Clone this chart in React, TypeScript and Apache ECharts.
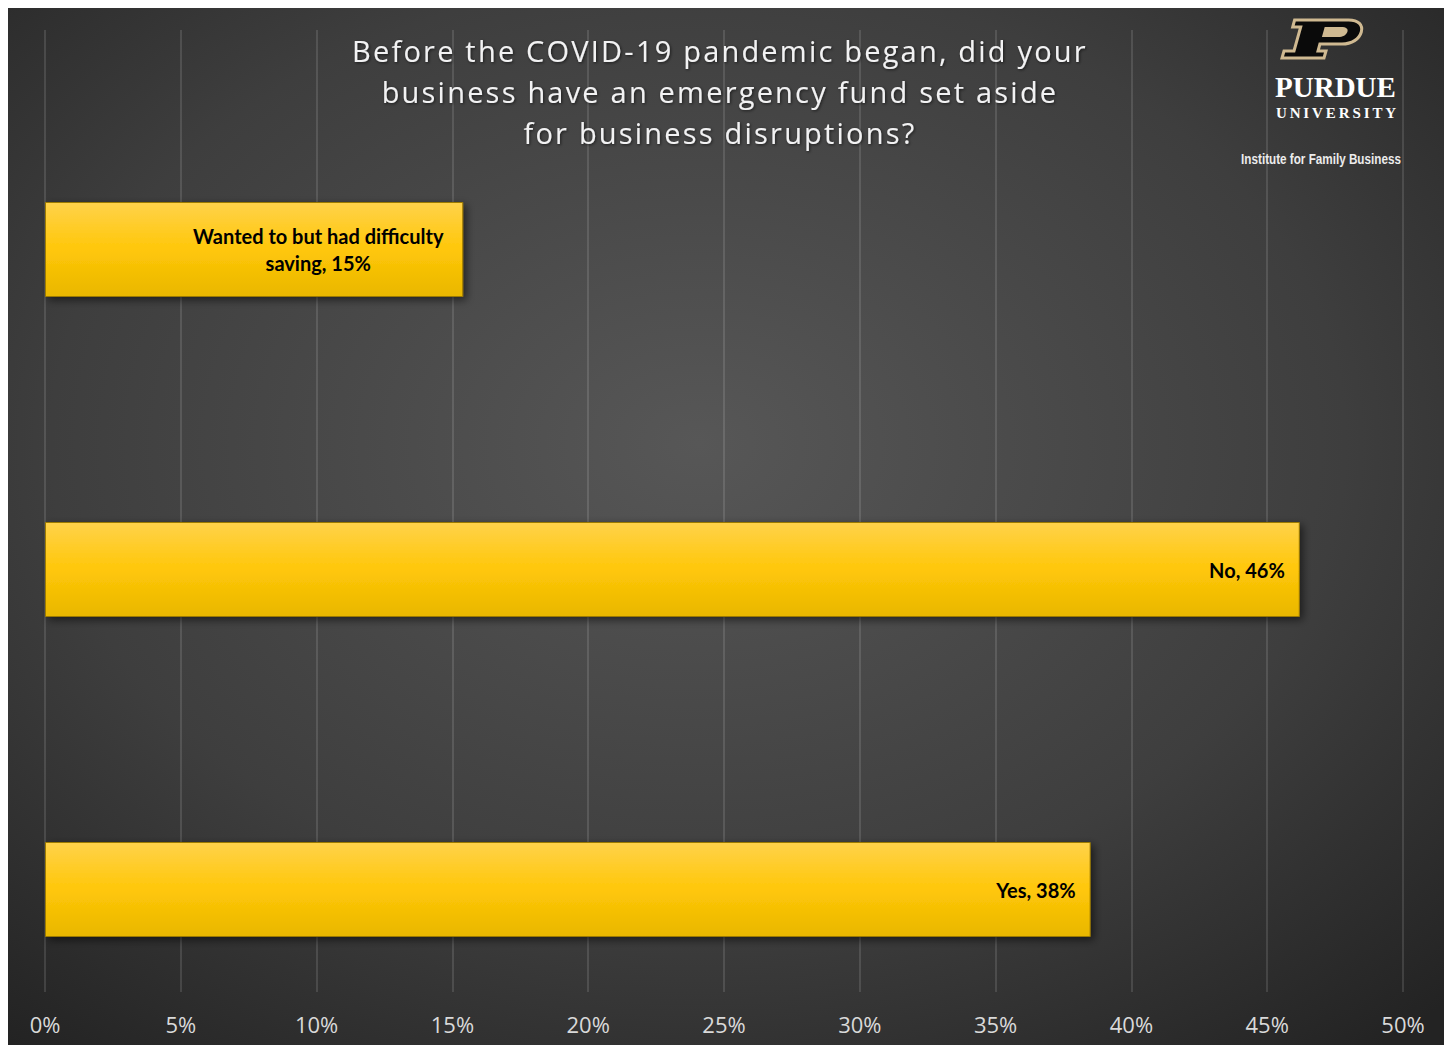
import React, { useEffect, useRef } from "react";
import * as echarts from "echarts";

const categories = ["Yes", "No", "Wanted to but had difficulty saving"];
const values = [38.5, 46.2, 15.4];
const labelTexts = ["Yes, 38%", "No, 46%", "Wanted to but had difficulty\nsaving, 15%"];
const axisMin = 0;
const axisMax = 50;
const axisStep = 5;
const titleLines = [
  "Before the COVID-19 pandemic began, did your",
  "business have an emergency fund set aside",
  "for business disruptions?",
];
const logoName = "PURDUE";
const logoSub = "UNIVERSITY";
const logoInstitute = "Institute for Family Business";

const TITLE_FILL = "#f2f2f3";
const SUB_FILL = "#fefefe";

const P_OUTER =
  "M14.6 0 L68.6 0 C78.6 0 83.2 5 81.3 12 C79.3 19 71.9 24 61.9 24 L39.9 24 L38 31 L46 31 L44 38 L2 38 L4 31 L14 31 L20.7 7 L12.7 7 Z";
const P_HOLE =
  "M44.7 7 L60.7 7 C66.7 7 68.4 9 67.3 12 C66.2 15 62.9 17 57.9 17 L41.9 17 Z";

export default function App() {
  const ref = useRef<HTMLDivElement>(null);
  useEffect(() => {
    if (!ref.current) return;
    echarts.graphic.registerShape("pOuter", echarts.graphic.extendPath(P_OUTER, {}));
    echarts.graphic.registerShape("pHole", echarts.graphic.extendPath(P_HOLE, {}));
    const chart = echarts.init(ref.current, null, { renderer: "svg" });
    const option: any = {
      animation: false,
      backgroundColor: {
        type: "radial",
        x: 0.48,
        y: 0.42,
        r: 0.75,
        colorStops: [
          { offset: 0, color: "#575757" },
          { offset: 0.6, color: "#3e3e3e" },
          { offset: 1, color: "#232323" },
        ],
      },
      grid: [
        { left: 37, right: 43, top: 22, bottom: 53, outerBoundsMode: "none" },
        { left: 37, right: 43, top: 81.5, height: 960, outerBoundsMode: "none" },
      ],
      xAxis: [
        {
          gridIndex: 0,
          type: "value",
          min: axisMin,
          max: axisMax,
          interval: axisStep,
          axisLine: { show: false },
          axisTick: { show: false },
          splitLine: { show: true, lineStyle: { color: "rgba(255,255,255,0.12)", width: 2 } },
          axisLabel: {
            margin: 21,
            color: "#d9d9d9",
            fontFamily: "Open Sans",
            fontSize: 22,
            formatter: (v: number) => `${v}%`,
          },
        },
        {
          gridIndex: 1,
          type: "value",
          min: axisMin,
          max: axisMax,
          show: false,
        },
      ],
      yAxis: [
        { gridIndex: 0, type: "category", data: categories, show: false },
        { gridIndex: 1, type: "category", data: categories, show: false },
      ],
      graphic: [
        {
          type: "text",
          x: 712,
          y: 22,
          z: 10,
          style: {
            text: titleLines.join("\n"),
            fill: TITLE_FILL,
            fontFamily: "Open Sans",
            fontSize: 29,
            lineHeight: 41,
            textAlign: "center",
            textVerticalAlign: "top",
            textShadowColor: "rgba(0,0,0,0.6)",
            textShadowBlur: 3,
            textShadowOffsetX: 1,
            textShadowOffsetY: 1,
          },
        },
        {
          type: "pOuter",
          x: 1272,
          y: 12,
          z: 10,
          style: { fill: "#0a0a0a", stroke: "#cfb991", lineWidth: 3 },
        },
        {
          type: "pHole",
          x: 1272,
          y: 12,
          z: 11,
          style: { fill: "#cfb991", stroke: "none" },
        },
        {
          type: "text",
          x: 1327.5,
          y: 78.5,
          z: 10,
          style: {
            text: logoName,
            fill: "#ffffff",
            fontFamily: "Liberation Serif",
            fontWeight: "bold",
            fontSize: 29,
            textAlign: "center",
            textVerticalAlign: "middle",
          },
        },
        {
          type: "text",
          x: 1329.5,
          y: 104.5,
          z: 10,
          style: {
            text: logoSub,
            fill: SUB_FILL,
            fontFamily: "Liberation Serif",
            fontWeight: "bold",
            fontSize: 15,
            textAlign: "center",
            textVerticalAlign: "middle",
          },
        },
        {
          type: "text",
          x: 1313,
          y: 150.5,
          z: 10,
          scaleX: 0.78,
          style: {
            text: logoInstitute,
            fill: "#ececec",
            fontFamily: "Liberation Sans",
            fontWeight: "bold",
            fontSize: 15,
            textAlign: "center",
            textVerticalAlign: "middle",
          },
        },
      ],
      series: [
        {
          type: "bar",
          xAxisIndex: 1,
          yAxisIndex: 1,
          barWidth: 95,
          data: values.map((v, i) =>
            i === 2
              ? { value: v, label: { align: "center", offset: [-130, 0] } }
              : { value: v }
          ),
          itemStyle: {
            color: {
              type: "linear",
              x: 0,
              y: 0,
              x2: 0,
              y2: 1,
              colorStops: [
                { offset: 0, color: "#ffd24a" },
                { offset: 0.5, color: "#ffc709" },
                { offset: 1, color: "#e9b700" },
              ],
            },
            borderColor: "#9c7a00",
            borderWidth: 1,
            shadowColor: "rgba(0,0,0,0.55)",
            shadowBlur: 8,
            shadowOffsetX: 3,
            shadowOffsetY: 3,
          },
          label: {
            show: true,
            position: "insideRight",
            distance: 15,
            color: "#000000",
            fontFamily: "Lato",
            fontWeight: "bold",
            fontSize: 20,
            lineHeight: 27,
            formatter: (p: any) => labelTexts[p.dataIndex],
          },
        },
      ],
    };
    chart.setOption(option);
    return () => chart.dispose();
  }, []);
  return (
    <>
      <style>{`text[fill="${TITLE_FILL}"]{letter-spacing:2.2px}text[fill="${SUB_FILL}"]{letter-spacing:2.9px}`}</style>
      <div ref={ref} style={{ width: 1438, height: 1037 }} />
    </>
  );
}
